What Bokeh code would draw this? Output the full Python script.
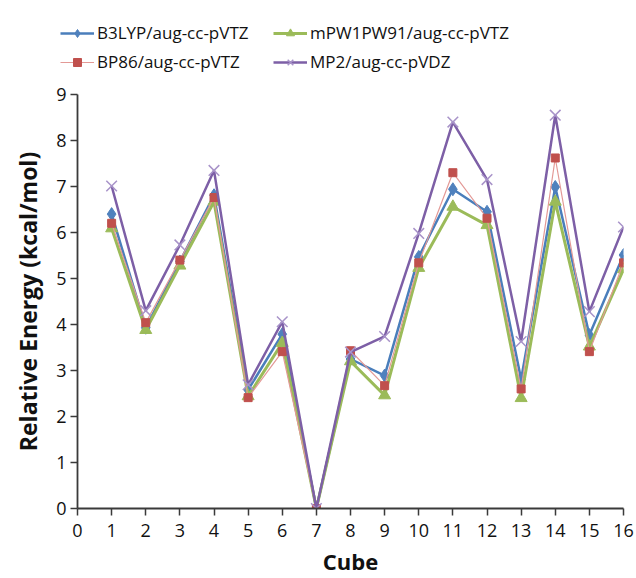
from bokeh.plotting import figure
from bokeh.models import Range1d, Legend, LegendItem, FixedTicker
from bokeh.layouts import column
from bokeh.embed import file_html
from bokeh.resources import INLINE

cubes = list(range(1, 17))
b3lyp = [6.40, 3.93, 5.37, 6.81, 2.58, 3.79, 0.0, 3.25, 2.89, 5.47, 6.94, 6.45, 2.81, 6.99, 3.77, 5.51]
mpw1pw91 = [6.09, 3.88, 5.28, 6.67, 2.44, 3.60, 0.0, 3.20, 2.46, 5.23, 6.56, 6.16, 2.40, 6.67, 3.52, 5.20]
bp86 = [6.20, 4.04, 5.40, 6.76, 2.41, 3.41, 0.0, 3.43, 2.67, 5.34, 7.30, 6.31, 2.60, 7.62, 3.41, 5.34]
mp2 = [7.01, 4.30, 5.73, 7.35, 2.69, 4.06, 0.0, 3.40, 3.74, 5.98, 8.40, 7.15, 3.63, 8.55, 4.28, 6.12]
names = ["B3LYP/aug-cc-pVTZ", "mPW1PW91/aug-cc-pVTZ", "BP86/aug-cc-pVTZ", "MP2/aug-cc-pVDZ"]
x_ticks = list(range(0, 17))
y_ticks = list(range(0, 10))

FONT = "Open Sans"

styles = [
    dict(line=dict(line_color="#4a7ebb", line_width=2.5),
         mark=dict(marker="diamond", size=13, fill_color="#4f81bd", line_color="#4f81bd")),
    dict(line=dict(line_color="#9bbb59", line_width=3),
         mark=dict(marker="triangle", size=12, fill_color="#9bbb59", line_color="#9bbb59")),
    dict(line=dict(line_color="#e39996", line_width=1.2),
         mark=dict(marker="square", size=8, fill_color="#c0504d", line_color="#c0504d")),
    dict(line=dict(line_color="#7d5fa6", line_width=2.5),
         mark=dict(marker="x", size=15, line_color="#a893c9", line_width=1.5)),
]
series = [b3lyp, mpw1pw91, bp86, mp2]

# main chart
p = figure(width=636, height=498, output_backend="svg", toolbar_location=None,
           x_range=Range1d(0, 16), y_range=Range1d(0, 9),
           min_border_left=77, min_border_right=13, min_border_top=14, min_border_bottom=69)
p.frame_align = False
p.outline_line_color = None
p.xgrid.visible = False
p.ygrid.visible = False
p.border_fill_color = "white"

for ys, st in zip(series, styles):
    p.line(cubes, ys, **st["line"])
    p.scatter(cubes, ys, **st["mark"])

for ax in (p.xaxis[0], p.yaxis[0]):
    ax.axis_line_color = "#3a3a3a"
    ax.axis_line_width = 1.8
    ax.major_tick_line_color = "#3a3a3a"
    ax.major_tick_line_width = 1.5
    ax.major_tick_out = 7
    ax.major_tick_in = 0
    ax.minor_tick_line_color = None
    ax.major_label_text_font = FONT
    ax.major_label_text_font_size = "18px"
    ax.major_label_text_color = "#111111"
    ax.axis_label_text_font = FONT
    ax.axis_label_text_font_style = "bold"
    ax.axis_label_text_font_size = "23px"
    ax.axis_label_text_color = "#111111"

p.xaxis[0].ticker = FixedTicker(ticks=x_ticks)
p.yaxis[0].ticker = FixedTicker(ticks=y_ticks)
p.xaxis[0].axis_label = "Cube"
p.xaxis[0].axis_label_text_font_size = "22px"
p.yaxis[0].axis_label = "Relative Energy (kcal/mol)"
p.xaxis[0].major_label_standoff = 8
p.yaxis[0].major_label_standoff = 4
p.xaxis[0].axis_label_standoff = 6
p.yaxis[0].axis_label_standoff = 9

# legend strip on top (its series lie outside its own visible ranges)
lg = figure(width=636, height=80, output_backend="svg", toolbar_location=None,
            x_axis_type=None, y_axis_type=None,
            x_range=Range1d(100, 101), y_range=Range1d(100, 101),
            min_border_left=0, min_border_right=0, min_border_top=0, min_border_bottom=0)
lg.frame_align = False
lg.outline_line_color = None
lg.xgrid.visible = False
lg.ygrid.visible = False
items = []
for name, ys, st in zip(names, series, styles):
    rl = lg.line(cubes, ys, **st["line"])
    rm = lg.scatter(cubes, ys, **st["mark"])
    items.append(LegendItem(label=name, renderers=[rl, rm]))

legend = Legend(items=items, orientation="horizontal", ncols=2, location=(60, 7))
legend.border_line_color = None
legend.background_fill_alpha = 0
legend.padding = 0
legend.margin = 0
legend.spacing = 6
legend.glyph_width = 34
legend.glyph_height = 20
legend.label_height = 20
legend.label_standoff = 3
legend.label_width = 170
legend.label_text_font = FONT
legend.label_text_font_size = "17px"
legend.label_text_color = "#111111"
lg.add_layout(legend, "center")

layout = column(lg, p, spacing=0)
open("out.html", "w").write(file_html(layout, INLINE))
